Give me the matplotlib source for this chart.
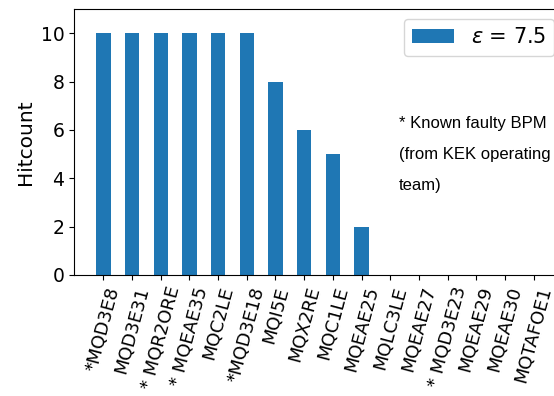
import numpy as np
import matplotlib
matplotlib.use("Agg")
import matplotlib.pyplot as plt

# hit counts per BPM at epsilon = 7.5
bpm_names = ["*MQD3E8", "MQD3E31", "* MQR2ORE", "* MQEAE35", "MQC2LE", "*MQD3E18",
             "MQI5E", "MQX2RE", "MQC1LE", "MQEAE25", "MQLC3LE", "MQEAE27",
             "* MQD3E23", "MQEAE29", "MQEAE30", "MQTAFOE1"]
hitcount = [10, 10, 10, 10, 10, 10, 8, 6, 5, 2, 0, 0, 0, 0, 0, 0]

fig = plt.figure(figsize=(5.54, 3.96), dpi=100)
# axes runs off the right side of the figure
ax = fig.add_axes([74/554, 1 - 275/396, 489/554, 266/396])

x = np.arange(len(bpm_names))
ax.bar(x, hitcount, width=0.5, color="#1f77b4", label=r"$\epsilon$ = 7.5")
ax.set_xticks(x)
ax.set_xticklabels(bpm_names, rotation=75, fontsize=13)
ax.set_ylim(0, 11)
ax.set_yticks([0, 2, 4, 6, 8, 10])
ax.tick_params(axis="y", labelsize=13.5)
ax.set_ylabel("Hitcount", fontsize=14.5)
ax.legend(loc="upper left", bbox_to_anchor=(404/554, 1 - 19/396),
          bbox_transform=fig.transFigure, borderaxespad=0, fontsize=15,
          handlelength=2.0)

fig.text(399/554, 1 - 116/396, "* Known faulty BPM\n(from KEK operating\nteam)",
         fontsize=12, family=["Liberation Sans", "DejaVu Sans"],
         va="top", ha="left", linespacing=2.35)

fig.savefig("out.png", dpi=100)
